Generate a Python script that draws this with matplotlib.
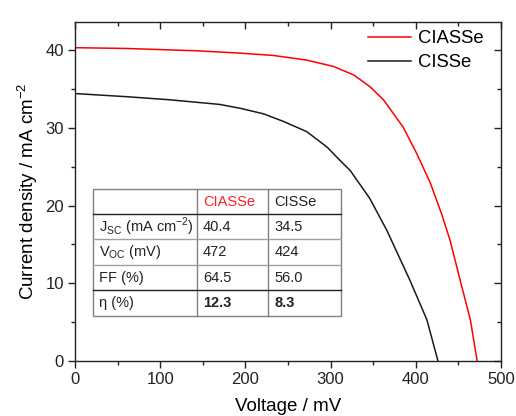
import numpy as np
import matplotlib.pyplot as plt
import matplotlib.lines as mlines
from matplotlib.patches import Rectangle
from matplotlib.ticker import MultipleLocator

plt.rcParams['font.family'] = ['Liberation Sans', 'DejaVu Sans']
plt.rcParams['mathtext.fontset'] = 'custom'
plt.rcParams['mathtext.rm'] = 'Liberation Sans'

# J-V curves
v_ciasse = [0, 60, 143, 194, 233, 272, 303, 327, 346, 362, 385, 401, 417, 430, 440, 452, 464, 472]
j_ciasse = [40.3, 40.2, 39.9, 39.6, 39.3, 38.7, 37.9, 36.8, 35.3, 33.6, 30.1, 26.7, 22.9, 19.0, 15.6, 10.4, 5.3, 0.0]
v_cisse = [0, 60, 111, 170, 194, 221, 245, 272, 296, 311, 323, 346, 366, 393, 413, 426]
j_cisse = [34.4, 34.0, 33.6, 33.0, 32.5, 31.8, 30.8, 29.5, 27.5, 25.8, 24.5, 20.9, 16.8, 10.4, 5.3, 0.0]

# table contents
col_heads = ['', 'CIASSe', 'CISSe']
row_names = [r'J$_{\mathregular{SC}}$ (mA cm$^{\mathregular{-2}}$)', r'V$_{\mathregular{OC}}$ (mV)', 'FF (%)', 'η (%)']
ciasse_vals = ['40.4', '472', '64.5', '12.3']
cisse_vals = ['34.5', '424', '56.0', '8.3']

fig = plt.figure(figsize=(5.16, 4.16), dpi=100)
ax = fig.add_axes([0.1453, 0.1322, 0.8257, 0.8156])

ax.plot(v_ciasse, j_ciasse, color='#ff0000', lw=1.1, label='CIASSe')
ax.plot(v_cisse, j_cisse, color='#1a1a1a', lw=1.1, label='CISSe')

ax.set_xlim(0, 500)
ax.set_ylim(0, 43.64)
ax.xaxis.set_major_locator(MultipleLocator(100))
ax.xaxis.set_minor_locator(MultipleLocator(50))
ax.yaxis.set_major_locator(MultipleLocator(10))
ax.yaxis.set_minor_locator(MultipleLocator(5))
ax.tick_params(which='both', direction='out', top=True, right=True, labelsize=12,
               colors='#222222', width=1)
ax.tick_params(which='major', length=5, pad=3)
ax.tick_params(which='minor', length=3)
for s in ax.spines.values():
    s.set_linewidth(1)
    s.set_color('#222222')

# top / right ticks point inward
for t in ax.xaxis.get_major_ticks() + ax.xaxis.get_minor_ticks():
    t.tick2line.set_marker(mlines.TICKDOWN)
for t in ax.yaxis.get_major_ticks() + ax.yaxis.get_minor_ticks():
    t.tick2line.set_marker(mlines.TICKLEFT)

ax.set_xlabel('Voltage / mV', fontsize=13.5, labelpad=8)
ax.set_ylabel(r'Current density / mA cm$^{\mathregular{-2}}$', fontsize=13.5, labelpad=4)

ax.legend(loc='upper right', frameon=False, fontsize=13.3,
          handlelength=2.3, handletextpad=0.4, labelspacing=0.38,
          borderaxespad=0.2, bbox_to_anchor=(0.985, 1.008))

# table drawn in axes fractions
xs = [0.0415, 0.2857, 0.453, 0.6244]
ys = [0.507, 0.433, 0.3596, 0.283, 0.209, 0.1326]
tr = ax.transAxes
ax.add_patch(Rectangle((xs[0], ys[-1]), xs[-1] - xs[0], ys[0] - ys[-1], transform=tr,
                       facecolor='white', edgecolor='#808080', lw=1, zorder=5))
for x in xs[1:-1]:
    ax.plot([x, x], [ys[-1], ys[0]], transform=tr, color='#808080', lw=1, zorder=6)
for i, y in enumerate(ys[1:-1]):
    c = '#202020' if i in (0, 3) else '#a0a0a0'
    ax.plot([xs[0], xs[-1]], [y, y], transform=tr, color=c, lw=1, zorder=6)

fs = 10.5
pad = 0.015
ax.text(xs[1] + pad, (ys[0] + ys[1]) / 2, col_heads[1], transform=tr, color='#ff2020',
        fontsize=fs, va='center', zorder=7)
ax.text(xs[2] + pad, (ys[0] + ys[1]) / 2, col_heads[2], transform=tr, color='#222222',
        fontsize=fs, va='center', zorder=7)
for i in range(4):
    yc = (ys[i + 1] + ys[i + 2]) / 2
    bold = 'bold' if i == 3 else 'normal'
    ax.text(xs[0] + pad, yc, row_names[i], transform=tr, fontsize=fs, va='center',
            color='#222222', zorder=7)
    ax.text(xs[1] + pad, yc, ciasse_vals[i], transform=tr, fontsize=fs, va='center',
            color='#222222', fontweight=bold, zorder=7)
    ax.text(xs[2] + pad, yc, cisse_vals[i], transform=tr, fontsize=fs, va='center',
            color='#222222', fontweight=bold, zorder=7)

fig.savefig('out.png', dpi=100)
